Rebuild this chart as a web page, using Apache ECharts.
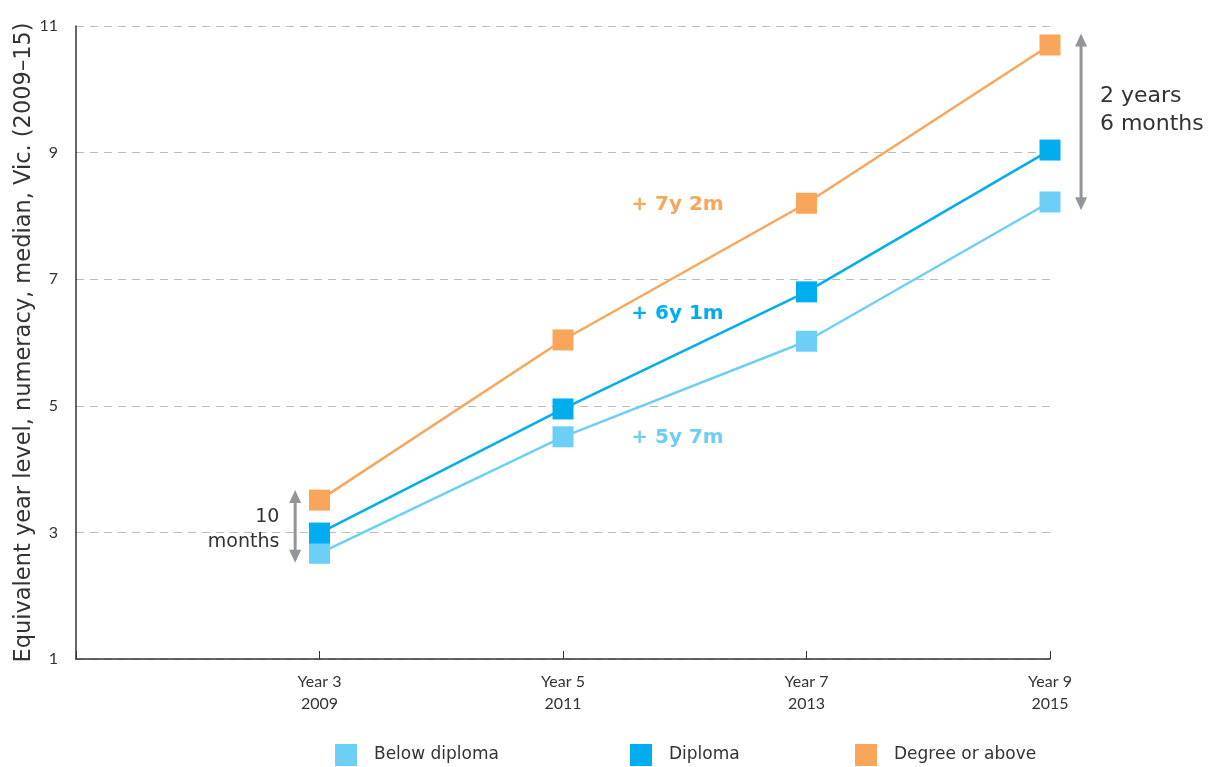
<!DOCTYPE html>
<html><head><meta charset="utf-8">
<script src="https://cdn.jsdelivr.net/npm/echarts@6/dist/echarts.min.js"></script>
<style>html,body{margin:0;padding:0;background:#fff}#c{width:1208px;height:767px}</style>
</head><body><div id="c"></div>
<script>
const yearLevels = [3, 5, 7, 9];
const xLabels = {3: 'Year 3\n2009', 5: 'Year 5\n2011', 7: 'Year 7\n2013', 9: 'Year 9\n2015'};
const seriesNames = ['Below diploma', 'Diploma', 'Degree or above'];
const belowDiploma = [2.67, 4.51, 6.02, 8.22];
const diploma = [2.99, 4.95, 6.80, 9.04];
const degree = [3.51, 6.04, 8.20, 10.70];
const gainLabels = ['+ 5y 7m', '+ 6y 1m', '+ 7y 2m'];
const gapStart = '10\nmonths';
const gapEnd = '2 years\n6 months';

const colors = ['#6dcff6', '#00aeef', '#f9a65a'];
const font = '"DejaVu Sans", sans-serif';
const values = [belowDiploma, diploma, degree];
const legendLeft = [335, 630, 855];

const chart = echarts.init(document.getElementById('c'));
const series = values.map((v, i) => ({
  name: seriesNames[i], type: 'line', z: 3 + i,
  data: yearLevels.map((x, j) => [x, v[j]]),
  symbol: 'rect', symbolSize: 21, showSymbol: true,
  lineStyle: {color: colors[i], width: 2.5},
  itemStyle: {color: colors[i]},
  emphasis: {disabled: true}, animation: false
}));

chart.setOption({
  animation: false,
  grid: {left: 76, right: 158, top: 26, bottom: 108, containLabel: false, outerBoundsMode: 'none'},
  legend: seriesNames.map((n, i) => ({
    bottom: 1, left: legendLeft[i], padding: 0, icon: 'rect', itemWidth: 22, itemHeight: 22,
    data: [n], selectedMode: false,
    textStyle: {fontFamily: font, fontSize: 17, color: '#333', padding: [0, 0, 0, 12]}
  })),
  xAxis: {
    type: 'value', min: 1, max: 9, interval: 2,
    axisLine: {lineStyle: {color: '#333', width: 1.5}},
    axisTick: {show: true, inside: true, length: 8, lineStyle: {color: '#333'}},
    splitLine: {show: false},
    axisLabel: {
      fontFamily: 'Lato, sans-serif', fontSize: 16, color: '#333', lineHeight: 22, margin: 12,
      formatter: v => xLabels[v] || ''
    }
  },
  yAxis: {
    type: 'value', min: 1, max: 11, interval: 2,
    name: 'Equivalent year level, numeracy, median, Vic. (2009–15)',
    nameLocation: 'middle', nameGap: 40, nameMoveOverlap: false,
    nameTextStyle: {fontFamily: font, fontSize: 22.5, color: '#333'},
    axisLine: {show: true, lineStyle: {color: '#333', width: 1.5}},
    axisTick: {show: false},
    axisLabel: {fontFamily: 'Lato, sans-serif', fontSize: 16, color: '#333', margin: 18},
    splitLine: {lineStyle: {color: '#bbb', type: [8, 6], width: 1}}
  },
  series: series
});

function px(x, y) { return chart.convertToPixel({gridIndex: 0}, [x, y]); }
function arrow(x, y1, y2) {
  const a = px(x, y1), b = px(x, y2);
  const top = Math.min(a[1], b[1]), bot = Math.max(a[1], b[1]), cx = a[0];
  const st = {stroke: '#939598', lineWidth: 3};
  return [
    {type: 'line', shape: {x1: cx, y1: top + 10, x2: cx, y2: bot - 10}, style: st},
    {type: 'polygon', shape: {points: [[cx, top], [cx - 6, top + 13], [cx + 6, top + 13]]}, style: {fill: '#939598'}},
    {type: 'polygon', shape: {points: [[cx, bot], [cx - 6, bot - 13], [cx + 6, bot - 13]]}, style: {fill: '#939598'}}
  ];
}
function text(x, y, s, opt) {
  const p = px(x, y);
  return {type: 'text', x: p[0], y: p[1], style: Object.assign({text: s, fontFamily: font}, opt)};
}
const gpos = [[5.94, 4.49], [5.94, 6.45], [5.94, 8.17]];
const elems = [];
gpos.forEach((g, i) => elems.push(text(g[0], g[1], gainLabels[i], {
  fill: colors[i], fontSize: 20, fontWeight: 'bold', align: 'center', verticalAlign: 'middle'})));
elems.push(...arrow(2.80, 2.52, 3.67));
elems.push(text(2.67, 3.05, gapStart, {fill: '#333', fontSize: 19, align: 'right', verticalAlign: 'middle', lineHeight: 25}));
elems.push(...arrow(9.255, 8.09, 10.88));
elems.push(text(9.41, 9.67, gapEnd, {fill: '#333', fontSize: 22, align: 'left', verticalAlign: 'middle', lineHeight: 28}));
chart.setOption({graphic: {elements: elems}});
</script></body></html>
